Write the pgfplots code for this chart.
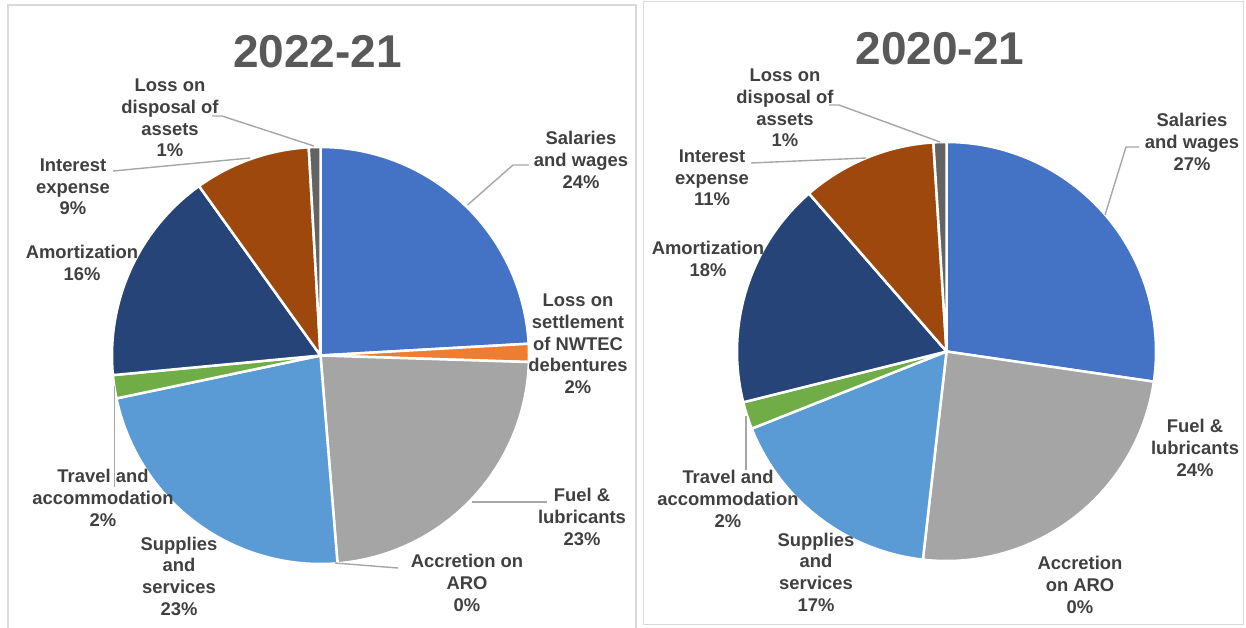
\documentclass[border=0pt]{standalone}
\usepackage{fontspec}
\setmainfont{Liberation Sans}
\usepackage{pgfplots}
\pgfplotsset{compat=1.18}

\definecolor{sal}{HTML}{4472C4}
\definecolor{nwtec}{HTML}{ED7D31}
\definecolor{fuel}{HTML}{A5A5A5}
\definecolor{supp}{HTML}{5B9BD5}
\definecolor{trav}{HTML}{70AD47}
\definecolor{amort}{HTML}{264478}
\definecolor{inter}{HTML}{9E480E}
\definecolor{disp}{HTML}{636363}
\definecolor{labeltxt}{HTML}{404040}
\definecolor{titletxt}{HTML}{595959}
\definecolor{framec}{HTML}{D9D9D9}
\definecolor{leadc}{HTML}{A6A6A6}

% pie centre and radius, in picture pixels
\newcommand\piecentre[3]{\gdef\pcx{#1}\gdef\pcy{#2}\gdef\pr{#3}\gdef\pstart{0}}
% one slice: share in percent, colour (clockwise from 12 o'clock)
\newcommand\pieslice[2]{%
  \pgfmathsetmacro\pend{\pstart+#1}%
  \edef\tmp{\noexpand\addplot[fill=#2, draw=white, line width=2.5pt, line join=round,
    domain=\pstart:\pend, samples=80, variable=\noexpand\t]
    ({\pcx+\pr*cos(90-3.6*\noexpand\t)}, {\pcy-\pr*sin(90-3.6*\noexpand\t)}) -- (\pcx,\pcy) -- cycle;}%
  \tmp
  \global\let\pstart\pend}
\newcommand\lbl[3]{\node[align=center, inner sep=0pt, text=labeltxt,
  font=\bfseries\fontsize{18.4}{21.7}\selectfont] at (#1,#2) {#3};}

\begin{document}
\begin{tikzpicture}
\begin{axis}[
    at={(0,0)}, anchor=south west,
    scale only axis, width=1246pt, height=627pt,
    xmin=0, xmax=1246, ymin=0, ymax=627,
    y dir=reverse,
    hide axis,
    leader/.style={leadc, line width=1.4pt},
]
% frames
\draw[framec, line width=1.5pt] (8,640) -- (8,5) -- (636,5) -- (636,640);
\draw[framec, line width=1.5pt] (643.5,1.5) rectangle (1243.5,624.5);

% ---- 2022-21 ----
\piecentre{320.5}{355.5}{208.5}
\pieslice{24.1}{sal}    % Salaries and wages
\pieslice{1.4}{nwtec}   % Loss on settlement of NWTEC debentures
\pieslice{23.2}{fuel}   % Fuel & lubricants
% Accretion on ARO: 0
\pieslice{23.0}{supp}   % Supplies and services
\pieslice{1.8}{trav}    % Travel and accommodation
\pieslice{16.6}{amort}  % Amortization
\pieslice{9.0}{inter}   % Interest expense
\pieslice{0.9}{disp}    % Loss on disposal of assets

\node[text=titletxt, font=\bfseries\fontsize{46}{50}\selectfont] at (317.5,51.5) {2022-21};

\addplot[leader] coordinates {(212,116) (222,116) (314,146)};
\addplot[leader] coordinates {(113,171) (250,158)};
\addplot[leader] coordinates {(114.5,386) (114.5,487)};
\addplot[leader] coordinates {(335,563) (398,568)};
\addplot[leader] coordinates {(472,502) (547,502)};
\addplot[leader] coordinates {(467.5,205) (513,165) (529,165)};

\lbl{170}{118}{Loss on\\disposal of\\assets\\1\%}
\lbl{73}{187}{Interest\\expense\\9\%}
\lbl{82}{263}{Amortization\\16\%}
\lbl{103}{498}{Travel and\\accommodation\\2\%}
\lbl{179}{576}{Supplies\\and\\services\\23\%}
\lbl{467}{583}{Accretion on\\ARO\\0\%}
\lbl{582}{517}{Fuel \&\\lubricants\\23\%}
\lbl{581}{160}{Salaries\\and wages\\24\%}
\lbl{578}{344}{Loss on\\settlement\\of NWTEC\\debentures\\2\%}

% ---- 2020-21 ----
\piecentre{946.5}{351.5}{209.5}
\pieslice{27.3}{sal}    % Salaries and wages
\pieslice{24.5}{fuel}   % Fuel & lubricants
% Accretion on ARO: 0
\pieslice{17.2}{supp}   % Supplies and services
\pieslice{2.1}{trav}    % Travel and accommodation
\pieslice{17.5}{amort}  % Amortization
\pieslice{10.4}{inter}  % Interest expense
\pieslice{1.0}{disp}    % Loss on disposal of assets

\node[text=titletxt, font=\bfseries\fontsize{46}{50}\selectfont] at (940,48.5) {2020-21};

\addplot[leader] coordinates {(829,105) (839,105) (940,142)};
\addplot[leader] coordinates {(751,163) (866,158)};
\addplot[leader] coordinates {(746,416) (746,470)};
\addplot[leader] coordinates {(1105,215) (1126,147) (1139,147)};

\lbl{785}{108}{Loss on\\disposal of\\assets\\1\%}
\lbl{712}{178}{Interest\\expense\\11\%}
\lbl{708}{259}{Amortization\\18\%}
\lbl{728}{499}{Travel and\\accommodation\\2\%}
\lbl{816}{572}{Supplies\\and\\services\\17\%}
\lbl{1080}{585}{Accretion\\on ARO\\0\%}
\lbl{1195}{448}{Fuel \&\\lubricants\\24\%}
\lbl{1192}{142}{Salaries\\and wages\\27\%}
\end{axis}
\pgfresetboundingbox
\path (0,0) rectangle (1246pt,627pt);
\end{tikzpicture}
\end{document}
